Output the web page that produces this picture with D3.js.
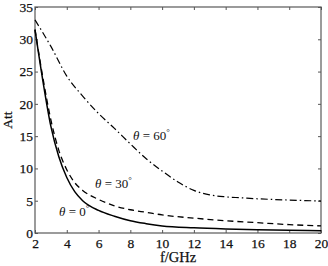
<!DOCTYPE html>
<html><head><meta charset="utf-8">
<script src="https://cdn.jsdelivr.net/npm/d3@7"></script>
<style>body{margin:0;background:#fff}svg{display:block}text{font-family:"Liberation Serif","Times New Roman",serif}</style>
</head><body>
<script>
const freqs0 = [2,2.5,3,3.5,4,4.5,5,6,7,8,9,10,12,14,16,18,20];
const att0   = [31.5,23.5,16.5,11.8,8.6,6.4,5.0,3.5,2.6,1.9,1.45,1.1,0.8,0.62,0.5,0.42,0.36];
const freqs30 = [2,2.5,3,3.5,4,4.5,5,6,7,8,9,10,12,14,16,18,20];
const att30   = [31.5,24,17.5,12.8,9.8,7.8,6.6,5.2,4.2,3.6,3.2,2.8,2.3,1.9,1.6,1.3,1.1];
const freqs60 = [2,3,4,5,6,7,8,9,10,11,12,13,14,15,16,18,20];
const att60   = [33,28.9,24.3,21.2,18.5,16.2,13.8,11.5,9.6,7.9,6.6,5.9,5.6,5.45,5.3,5.1,4.95];
const xTicks = [2,4,6,8,10,12,14,16,18,20];
const yTicks = [0,5,10,15,20,25,30,35];
const labels = [{t:"60", f:8.17, v:14.4},{t:"30", f:5.78, v:7.0},{t:"0", f:3.51, v:2.63}];

const W=328,H=266, m={l:35,r:7,t:7,b:33};
const svg=d3.select("body").append("svg").attr("width",W).attr("height",H);
const x=d3.scaleLinear().domain([2,20]).range([m.l,W-m.r]);
const y=d3.scaleLinear().domain([0,35]).range([H-m.b,m.t]);

svg.append("rect").attr("x",x(2)).attr("y",y(35)).attr("width",x(20)-x(2)).attr("height",y(0)-y(35))
 .attr("fill","none").attr("stroke","#666").attr("stroke-width",1.3);

const ax=svg.append("g").attr("transform",`translate(0,${y(0)})`)
 .call(d3.axisBottom(x).tickValues(xTicks).tickSize(-3).tickPadding(5).tickSizeOuter(0));
const ay=svg.append("g").attr("transform",`translate(${x(2)},0)`)
 .call(d3.axisLeft(y).tickValues(yTicks).tickSize(-3).tickPadding(2).tickSizeOuter(0));
const at=svg.append("g").attr("transform",`translate(0,${y(35)})`)
 .call(d3.axisTop(x).tickValues(xTicks).tickSize(-3).tickFormat("").tickSizeOuter(0));
const ar=svg.append("g").attr("transform",`translate(${x(20)},0)`)
 .call(d3.axisRight(y).tickValues(yTicks).tickSize(-3).tickFormat("").tickSizeOuter(0));
[ax,ay,at,ar].forEach(a=>{a.select(".domain").remove();a.selectAll("line").attr("stroke","#555");
  a.selectAll("text").attr("font-size",13.5).attr("font-family","Liberation Serif").attr("fill","#111")
   .attr("stroke","#111").attr("stroke-width",0.25);});

const line=d3.line().x(d=>x(d[0])).y(d=>y(d[1])).curve(d3.curveMonotoneX);
const series=[[freqs0,att0,null,1.5],[freqs30,att30,"6,4",1.3],[freqs60,att60,"7,3,1.5,3",1.2]];
series.forEach(([f,a,dash,w])=>{
  svg.append("path").datum(f.map((v,i)=>[v,a[i]])).attr("d",line).attr("fill","none")
   .attr("stroke","#000").attr("stroke-width",w).attr("stroke-dasharray",dash);
});

labels.forEach(l=>{
  const t=svg.append("text").attr("x",x(l.f)).attr("y",y(l.v)).attr("font-size",13).attr("fill","#111");
  t.append("tspan").attr("font-style","italic").text("θ");
  t.append("tspan").text(" = "+l.t);
  t.append("tspan").attr("font-size",9).attr("dy",-5).text("°");
});

svg.append("text").attr("x",x(11)).attr("y",H-4).attr("text-anchor","middle").attr("font-size",14.5).attr("fill","#111").attr("stroke","#111").attr("stroke-width",0.25).text("f/GHz");
svg.append("text").attr("transform",`translate(12,${y(17.5)}) rotate(-90)`).attr("text-anchor","middle").attr("font-size",13.5).attr("fill","#111").attr("stroke","#111").attr("stroke-width",0.25).text("Att");
</script>
</body></html>
